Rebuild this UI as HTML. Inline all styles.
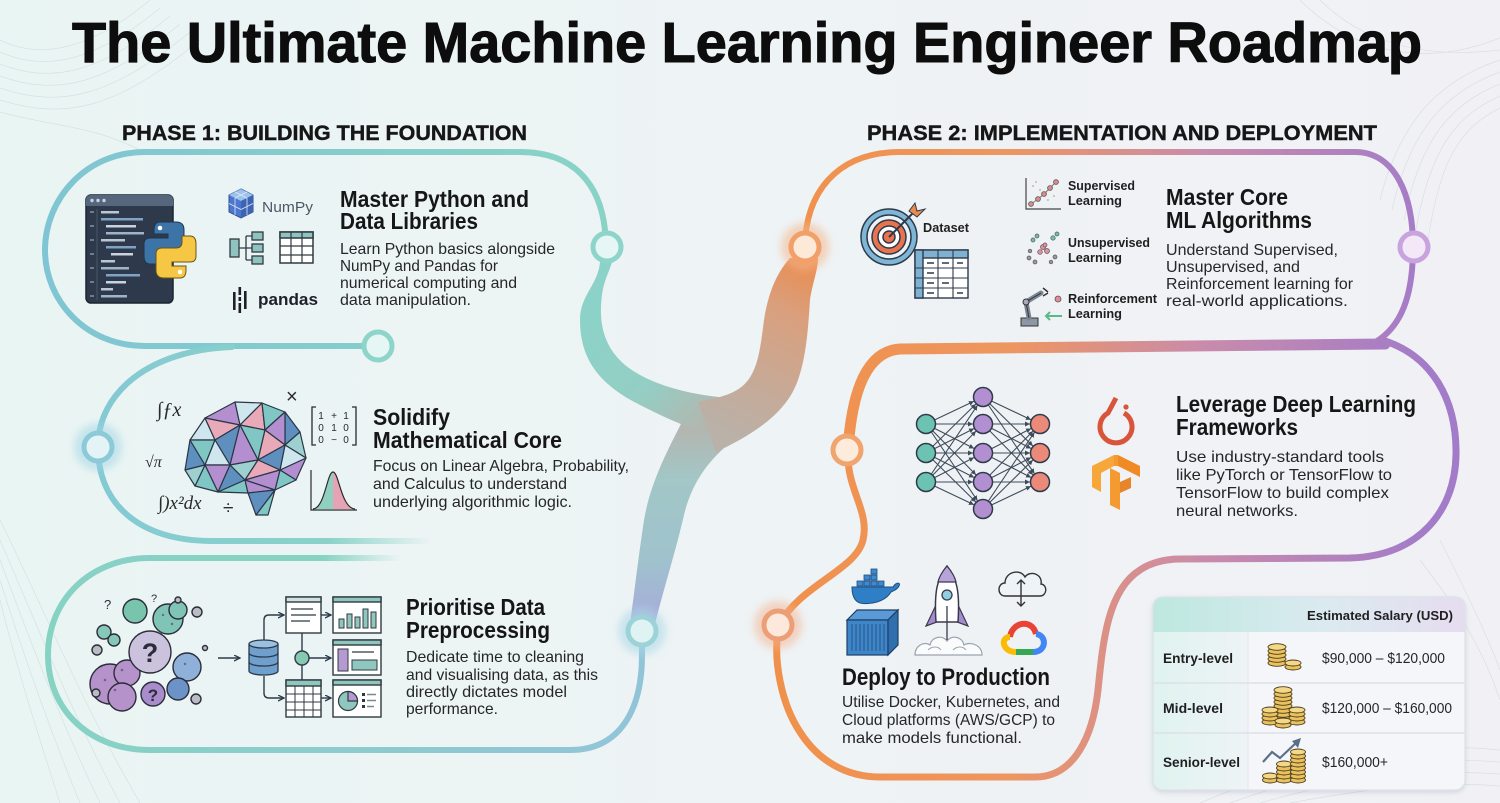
<!DOCTYPE html>
<html><head><meta charset="utf-8"><style>
body{margin:0;padding:0;background:#eef3f4}
svg{display:block}
text{font-family:"Liberation Sans",Arial,sans-serif}
.h{font-weight:700;fill:#161616}
.b{fill:#262626}
.m{font-family:"Liberation Serif",serif;font-style:italic;fill:#2a2a2a}
</style></head><body>
<svg width="1500" height="803" viewBox="0 0 1500 803" xmlns="http://www.w3.org/2000/svg">
<defs>
<linearGradient id="bg" x1="0" y1="0" x2="1" y2="0"><stop offset="0" stop-color="#e9f5f3"/><stop offset=".5" stop-color="#eef3f5"/><stop offset="1" stop-color="#f1f1f5"/></linearGradient>
<linearGradient id="g2" gradientUnits="userSpaceOnUse" x1="780" y1="0" x2="1430" y2="0"><stop offset="0" stop-color="#f0914b"/><stop offset=".35" stop-color="#ee9660"/><stop offset=".65" stop-color="#c98bab"/><stop offset="1" stop-color="#a27bc9"/></linearGradient>
<linearGradient id="gT1" gradientUnits="userSpaceOnUse" x1="40" y1="0" x2="610" y2="0"><stop offset="0" stop-color="#80c5d3"/><stop offset="1" stop-color="#89d3c6"/></linearGradient>
<linearGradient id="gT2" gradientUnits="userSpaceOnUse" x1="90" y1="0" x2="430" y2="0"><stop offset="0" stop-color="#84c9d4"/><stop offset=".7" stop-color="#8ad2c8"/><stop offset="1" stop-color="#8ad2c8" stop-opacity="0"/></linearGradient>
<linearGradient id="gT3" gradientUnits="userSpaceOnUse" x1="40" y1="0" x2="650" y2="0"><stop offset="0" stop-color="#86d3c3"/><stop offset="1" stop-color="#92c4d9"/></linearGradient>
<linearGradient id="gT3t" gradientUnits="userSpaceOnUse" x1="90" y1="0" x2="400" y2="0"><stop offset="0" stop-color="#86d3c3"/><stop offset=".75" stop-color="#86d3c3"/><stop offset="1" stop-color="#86d3c3" stop-opacity="0"/></linearGradient>
<linearGradient id="trT" gradientUnits="userSpaceOnUse" x1="600" y1="300" x2="725" y2="415"><stop offset="0" stop-color="#8cd2c8"/><stop offset=".55" stop-color="#94cec4"/><stop offset="1" stop-color="#b6b4ac"/></linearGradient>
<linearGradient id="trO" gradientUnits="userSpaceOnUse" x1="805" y1="258" x2="720" y2="430"><stop offset="0" stop-color="#eb8c50"/><stop offset=".3" stop-color="#d9a07e"/><stop offset=".7" stop-color="#c6aa98"/><stop offset="1" stop-color="#bab1a8"/></linearGradient>
<linearGradient id="trL" gradientUnits="userSpaceOnUse" x1="0" y1="420" x2="0" y2="620"><stop offset="0" stop-color="#b6b3ad"/><stop offset=".3" stop-color="#a2c7c6"/><stop offset=".7" stop-color="#9fc2cd"/><stop offset="1" stop-color="#a7acd9"/></linearGradient>
<linearGradient id="hdr" x1="0" y1="0" x2="1" y2="0"><stop offset="0" stop-color="#bde8df"/><stop offset=".55" stop-color="#dbeaf0"/><stop offset="1" stop-color="#e6dcf0"/></linearGradient>
<linearGradient id="lcol" x1="0" y1="0" x2="1" y2="0"><stop offset="0" stop-color="#dff3ef"/><stop offset="1" stop-color="#eef3f6"/></linearGradient>
<filter id="bl" x="-50%" y="-50%" width="200%" height="200%"><feGaussianBlur stdDeviation="4"/></filter>
<filter id="sh" x="-10%" y="-10%" width="120%" height="130%"><feDropShadow dx="0" dy="2" stdDeviation="3" flood-color="#8a93a6" flood-opacity=".35"/></filter>
<clipPath id="card"><rect x="1153" y="597" width="312" height="193" rx="10"/></clipPath>
<marker id="ah" markerUnits="userSpaceOnUse" markerWidth="6" markerHeight="6" refX="5" refY="2.5" orient="auto"><path d="M0,0 L5,2.5 L0,5 z" fill="#2d3a4a"/></marker>
<marker id="ah2" markerUnits="userSpaceOnUse" markerWidth="7" markerHeight="7" refX="6" refY="3" orient="auto"><path d="M0,0 L6,3 L0,6" fill="none" stroke="#2d3a4a" stroke-width="1.3"/></marker>
</defs>

<rect width="1500" height="803" fill="url(#bg)"/>

<g fill="none" stroke="#c9d3d8" stroke-width=".7" opacity=".6">
<path d="M0 40 C40 60 90 50 150 0"/><path d="M0 52 C45 72 95 62 160 8"/><path d="M0 64 C50 84 100 74 170 16"/><path d="M0 76 C55 96 105 86 180 24"/><path d="M0 88 C60 108 110 98 190 32"/><path d="M0 100 C65 120 115 110 200 40"/><path d="M0 112 C60 128 90 125 140 150"/>
<path d="M1500 60 C1440 80 1400 120 1380 200"/><path d="M1500 72 C1445 92 1410 130 1392 210"/><path d="M1500 84 C1450 104 1420 140 1404 220"/><path d="M1500 96 C1455 116 1430 150 1416 230"/><path d="M1500 108 C1460 128 1440 160 1428 240"/><path d="M1320 0 C1360 40 1420 60 1500 50"/><path d="M1300 0 C1350 50 1420 70 1500 38"/>
<path d="M0 520 C40 600 80 700 140 803"/><path d="M0 540 C35 620 70 710 120 803"/><path d="M0 560 C30 640 60 720 100 803"/><path d="M0 580 C25 660 50 730 80 803"/><path d="M0 600 C20 680 40 740 60 803"/>
<path d="M1200 803 C1300 760 1400 740 1500 750"/><path d="M1230 803 C1320 770 1410 755 1500 762"/><path d="M1260 803 C1340 780 1420 768 1500 774"/><path d="M1290 803 C1360 790 1430 780 1500 786"/><path d="M1420 560 C1450 600 1480 640 1500 700"/><path d="M1440 540 C1465 590 1485 630 1500 670"/>
</g>

<text x="72" y="62" font-size="57" font-weight="700" fill="#0d0d0d" stroke="#0d0d0d" stroke-width="1.1" textLength="1350" lengthAdjust="spacingAndGlyphs">The Ultimate Machine Learning Engineer Roadmap</text>
<text x="122" y="140" font-size="21" class="h" stroke="#161616" stroke-width=".4" textLength="405" lengthAdjust="spacingAndGlyphs">PHASE 1: BUILDING THE FOUNDATION</text>
<text x="867" y="140" font-size="21" class="h" stroke="#161616" stroke-width=".4" textLength="510" lengthAdjust="spacingAndGlyphs">PHASE 2: IMPLEMENTATION AND DEPLOYMENT</text>

<!-- CENTRAL TRUNK -->
<path d="M682 422 C665 455 650 485 644 520 C638 560 634 595 630 624 L655 624 C662 595 676 550 684 515 C690 490 702 468 724 448 L705 418 Z" fill="url(#trL)"/>
<path d="M600 262 C598 285 580 295 580 320 C580 360 600 385 640 405 C660 415 682 426 705 432 L730 398 C690 395 650 385 625 365 C605 348 598 325 602 295 C604 280 610 270 612 262 Z" fill="url(#trT)"/>
<path d="M790 258 C775 275 768 295 764 320 C760 350 758 375 740 388 C730 395 718 398 698 402 L716 452 C746 438 776 420 791 395 C806 370 808 330 810 300 C812 285 818 270 818 258 Z" fill="url(#trO)"/>

<g fill="none" stroke-linecap="round">
<path d="M603 268 C606 255 607 245 605 230 C600 185 575 152 520 152 L145 152 C85 152 45 200 45 250 C45 300 85 346 145 346 L378 346" stroke="url(#gT1)" stroke-width="6"/>
<path d="M232 347 C150 350 98 392 98 447 C98 505 140 540 210 541 L430 541" stroke="url(#gT2)" stroke-width="6"/>
<path d="M400 558 L150 558" stroke="url(#gT3t)" stroke-width="6"/>
<path d="M150 558 C90 558 48 600 48 655 C48 710 90 750 150 750 L570 750 C620 750 642 710 642 655 L642 632" stroke="url(#gT3)" stroke-width="6"/>
</g>

<g fill="none" stroke="url(#g2)" stroke-linecap="round">
<path d="M805 262 L805 247 C805 195 835 152 900 152 L1355 152 C1395 152 1413 195 1413 247 C1413 295 1402 328 1372 344" stroke-width="6"/>
<path d="M1385 344 L900 349 C868 351 852 388 848 450" stroke-width="11"/>
<path d="M848 450 C846 490 870 510 863 540 C856 570 800 585 779 625 C772 660 782 705 800 732 C818 760 845 777 880 777 L1035 777 C1075 777 1093 735 1098 690 C1103 640 1108 590 1140 570 C1150 563 1165 559 1180 559 L1350 558 C1420 556 1455 510 1456 455 C1457 400 1432 355 1382 340" stroke-width="7"/>
</g>

<g>
<circle cx="98" cy="447" r="24" fill="#9fd3e3" opacity=".5" filter="url(#bl)"/>
<circle cx="642" cy="631" r="24" fill="#a9d8e6" opacity=".55" filter="url(#bl)"/>
<circle cx="805" cy="247" r="24" fill="#f5b68a" opacity=".55" filter="url(#bl)"/>
<circle cx="778" cy="625" r="24" fill="#f5b08a" opacity=".5" filter="url(#bl)"/>
<circle cx="607" cy="247" r="14" fill="#e6f6f4" stroke="#8dd4ca" stroke-width="5"/>
<circle cx="378" cy="346" r="14" fill="#e6f6f4" stroke="#8dd4ca" stroke-width="5"/>
<circle cx="98" cy="447" r="14" fill="#e3f3f6" stroke="#8ccad8" stroke-width="5"/>
<circle cx="642" cy="631" r="14" fill="#dff3f2" stroke="#9dd3d8" stroke-width="5"/>
<circle cx="805" cy="247" r="14" fill="#fde9d8" stroke="#f0a068" stroke-width="5"/>
<circle cx="1414" cy="247" r="14" fill="#f3e8f8" stroke="#c9a3de" stroke-width="5"/>
<circle cx="847" cy="450" r="14" fill="#fdebdc" stroke="#f0a46e" stroke-width="5"/>
<circle cx="778" cy="625" r="14" fill="#fde8dc" stroke="#ec9f77" stroke-width="5"/>
</g>

<!-- CARD 1 -->
<g>
<rect x="86" y="195" width="87" height="108" rx="5" fill="#2e3a4b" stroke="#1b2430" stroke-width="1.5"/>
<path d="M86 206 V200 Q86 195 91 195 H168 Q173 195 173 200 V206 Z" fill="#56677d"/>
<circle cx="92" cy="200.5" r="1.7" fill="#c9d3df"/><circle cx="98" cy="200.5" r="1.7" fill="#c9d3df"/><circle cx="104" cy="200.5" r="1.7" fill="#c9d3df"/>
<line x1="97" y1="209" x2="97" y2="300" stroke="#46566b"/>
<g fill="#6b7c90"><rect x="90" y="211" width="4" height="2"/><rect x="90" y="225" width="4" height="2"/><rect x="90" y="239" width="4" height="2"/><rect x="90" y="253" width="4" height="2"/><rect x="90" y="267" width="4" height="2"/><rect x="90" y="281" width="4" height="2"/><rect x="90" y="295" width="4" height="2"/></g>
<rect x="101" y="211" width="18" height="2.5" fill="#b9c6d4"/><rect x="101" y="218" width="42" height="2.5" fill="#7fa3c6"/><rect x="106" y="225" width="30" height="2.5" fill="#c9d3dd"/><rect x="106" y="232" width="38" height="2.5" fill="#9fb4c8"/><rect x="101" y="239" width="24" height="2.5" fill="#b9c6d4"/><rect x="106" y="246" width="30" height="2.5" fill="#7fa3c6"/><rect x="111" y="253" width="22" height="2.5" fill="#c9d3dd"/><rect x="101" y="260" width="14" height="2.5" fill="#b9c6d4"/><rect x="101" y="267" width="28" height="2.5" fill="#9fb4c8"/><rect x="106" y="274" width="34" height="2.5" fill="#7fa3c6"/><rect x="106" y="281" width="20" height="2.5" fill="#c9d3dd"/><rect x="101" y="288" width="12" height="2.5" fill="#b9c6d4"/><rect x="101" y="295" width="26" height="2.5" fill="#9fb4c8"/>
<path d="M160 222 H176 Q184 222 184 230 V246 Q184 252 178 252 H164 Q158 252 158 258 V264 H150 Q144 264 144 256 V244 Q144 238 150 238 H168 V234 H154 V230 Q154 222 160 222 Z" fill="#3d74a8" stroke="#1f3550"/>
<path d="M160 222 H176 Q184 222 184 230 V246 Q184 252 178 252 H164 Q158 252 158 258 V264 H150 Q144 264 144 256 V244 Q144 238 150 238 H168 V234 H154 V230 Q154 222 160 222 Z" fill="#f6c744" stroke="#6b5512" transform="rotate(180 170 250)"/>
<circle cx="160" cy="228" r="2.3" fill="#fff"/><circle cx="180" cy="272" r="2.3" fill="#fff"/>
<polygon points="241,189 253,195 253,212 241,218 229,212 229,195" fill="#4d77cf" stroke="#2f4f8f"/>
<polygon points="241,189 253,195 241,201 229,195" fill="#9cc3ee"/>
<polygon points="241,201 253,195 253,212 241,218" fill="#3d63b3"/>
<g stroke="#dfe9f7" stroke-width=".8"><line x1="235" y1="192" x2="247" y2="198"/><line x1="247" y1="192" x2="235" y2="198"/><line x1="229" y1="203.5" x2="241" y2="209.5"/><line x1="241" y1="209.5" x2="253" y2="203.5"/><line x1="235" y1="198" x2="235" y2="215"/><line x1="247" y1="198" x2="247" y2="215"/></g>
<text x="262" y="212" font-size="15" fill="#4a5868" textLength="51" lengthAdjust="spacingAndGlyphs">NumPy</text>
<g stroke="#2f3a40" stroke-width="1.3" fill="#8fc3c0">
<rect x="230" y="239" width="9" height="18"/>
<path d="M239 248 H246 M246 236 V260 M246 236 H252 M246 248 H252 M246 260 H252" fill="none"/>
<rect x="252" y="232" width="11" height="8"/><rect x="252" y="244" width="11" height="8"/><rect x="252" y="256" width="11" height="8"/>
</g>
<rect x="280" y="232" width="33" height="31" fill="#fff" stroke="#2f3a40" stroke-width="1.5"/>
<rect x="280" y="232" width="33" height="6" fill="#8fc3c0" stroke="#2f3a40" stroke-width="1.5"/>
<path d="M291 232 V263 M302 232 V263 M280 246 H313 M280 255 H313" stroke="#2f3a40" stroke-width="1.2"/>
<g fill="#1f1f2a"><rect x="233" y="292" width="2.6" height="18"/><rect x="238.5" y="287" width="2.6" height="8"/><rect x="238.5" y="297" width="2.6" height="4"/><rect x="238.5" y="303" width="2.6" height="10"/><rect x="244" y="291" width="2.6" height="18"/></g>
<text x="258" y="305" font-size="17" font-weight="700" fill="#1f1f2a" textLength="60" lengthAdjust="spacingAndGlyphs">pandas</text>
</g>
<text x="340" y="207" font-size="23" class="h" textLength="189" lengthAdjust="spacingAndGlyphs">Master Python and</text>
<text x="340" y="229" font-size="23" class="h" textLength="138" lengthAdjust="spacingAndGlyphs">Data Libraries</text>
<g font-size="16" class="b">
<text x="340" y="254" textLength="215" lengthAdjust="spacingAndGlyphs">Learn Python basics alongside</text>
<text x="340" y="271" textLength="158" lengthAdjust="spacingAndGlyphs">NumPy and Pandas for</text>
<text x="340" y="288" textLength="177" lengthAdjust="spacingAndGlyphs">numerical computing and</text>
<text x="340" y="305" textLength="131" lengthAdjust="spacingAndGlyphs">data manipulation.</text>
</g>

<!-- CARD 2 -->
<g stroke="#2a3646" stroke-width="1.2" stroke-linejoin="round">
<polygon points="185,470 190,440 205,465" fill="#5f8fbf"/>
<polygon points="190,440 205,418 215,440" fill="#cfe6ee"/>
<polygon points="190,440 215,440 205,465" fill="#7fc6c4"/>
<polygon points="205,418 235,402 240,425" fill="#b38fd0"/>
<polygon points="205,418 240,425 215,440" fill="#e8a9b8"/>
<polygon points="235,402 262,403 240,425" fill="#cfe6ee"/>
<polygon points="262,403 265,430 240,425" fill="#e8a9b8"/>
<polygon points="262,403 285,412 265,430" fill="#7fc6c4"/>
<polygon points="285,412 300,432 285,445" fill="#5f8fbf"/>
<polygon points="285,412 285,445 265,430" fill="#b38fd0"/>
<polygon points="300,432 306,458 285,445" fill="#9dd0cf"/>
<polygon points="306,458 296,480 280,470" fill="#b38fd0"/>
<polygon points="306,458 280,470 285,445" fill="#cfe6ee"/>
<polygon points="296,480 275,490 280,470" fill="#7fc6c4"/>
<polygon points="215,440 240,425 230,465" fill="#5f8fbf"/>
<polygon points="240,425 265,430 258,460" fill="#7fc6c4"/>
<polygon points="240,425 258,460 230,465" fill="#b38fd0"/>
<polygon points="265,430 285,445 258,460" fill="#e8a9b8"/>
<polygon points="285,445 280,470 258,460" fill="#5f8fbf"/>
<polygon points="215,440 230,465 205,465" fill="#cfe6ee"/>
<polygon points="205,465 230,465 218,492" fill="#b38fd0"/>
<polygon points="205,465 218,492 195,486" fill="#7fc6c4"/>
<polygon points="185,470 205,465 195,486" fill="#9dd0cf"/>
<polygon points="230,465 258,460 245,480" fill="#9dd0cf"/>
<polygon points="258,460 280,470 245,480" fill="#e8a9b8"/>
<polygon points="280,470 275,490 245,480" fill="#b38fd0"/>
<polygon points="230,465 245,480 218,492" fill="#5f8fbf"/>
<polygon points="245,480 248,493 218,492" fill="#7fc6c4"/>
<polygon points="245,480 275,490 248,493" fill="#b38fd0"/>
<polygon points="248,493 275,490 256,515" fill="#5f8fbf"/>
<polygon points="275,490 268,515 256,515" fill="#7fc6c4"/>
</g>
<text x="157" y="416" font-size="20" class="m">∫ƒx</text>
<text x="286" y="403" font-size="20" fill="#2a2a2a">×</text>
<text x="145" y="467" font-size="16" class="m">√π</text>
<text x="158" y="509" font-size="19" class="m">∫)x²dx</text>
<text x="223" y="514" font-size="19" fill="#2a2a2a">÷</text>
<path d="M316 407 H312 V445 H316 M352 407 H356 V445 H352" fill="none" stroke="#2a2a2a" stroke-width="1.3"/>
<g font-size="10" fill="#2a2a2a" text-anchor="middle"><text x="321" y="419">1</text><text x="334" y="419">+</text><text x="346" y="419">1</text><text x="321" y="431">0</text><text x="334" y="431">1</text><text x="346" y="431">0</text><text x="321" y="443">0</text><text x="334" y="443">−</text><text x="346" y="443">0</text></g>
<path d="M313 509 C325 508 327 472 333 472 L333 509 Z" fill="#8fd0c0"/>
<path d="M333 472 C339 472 341 508 355 509 L333 509 Z" fill="#e5a3b5"/>
<path d="M313 509 C325 508 327 472 333 472 C339 472 341 508 355 509" fill="none" stroke="#2a2a2a" stroke-width="1.2"/>
<path d="M311 470 V510 H357" fill="none" stroke="#2a2a2a" stroke-width="1.2"/>
<text x="373" y="425" font-size="23" class="h" textLength="77" lengthAdjust="spacingAndGlyphs">Solidify</text>
<text x="373" y="448" font-size="23" class="h" textLength="189" lengthAdjust="spacingAndGlyphs">Mathematical Core</text>
<g font-size="16" class="b">
<text x="373" y="471" textLength="256" lengthAdjust="spacingAndGlyphs">Focus on Linear Algebra, Probability,</text>
<text x="373" y="489" textLength="194" lengthAdjust="spacingAndGlyphs">and Calculus to understand</text>
<text x="373" y="507" textLength="199" lengthAdjust="spacingAndGlyphs">underlying algorithmic logic.</text>
</g>

<!-- CARD 3 -->
<g stroke="#2c2c3a" stroke-width="1.4">
<circle cx="135" cy="611" r="12" fill="#79c4ad"/>
<circle cx="168" cy="619" r="15" fill="#7fc4b4"/>
<circle cx="178" cy="610" r="9" fill="#7fc4b4"/>
<circle cx="104" cy="632" r="7" fill="#86c8b8"/><circle cx="114" cy="640" r="6" fill="#86c8b8"/>
<circle cx="110" cy="684" r="20" fill="#b592c9"/><circle cx="127" cy="673" r="13" fill="#b592c9"/><circle cx="122" cy="697" r="14" fill="#b592c9"/>
<circle cx="187" cy="667" r="14" fill="#8fb0d8"/>
<circle cx="178" cy="689" r="11" fill="#6c93c7"/>
<circle cx="150" cy="652" r="21" fill="#cbc3dd"/>
<circle cx="153" cy="694" r="12" fill="#a98ccb"/>
<g fill="#b9bcc2"><circle cx="97" cy="650" r="5"/><circle cx="197" cy="612" r="5"/><circle cx="196" cy="699" r="5"/><circle cx="96" cy="693" r="4"/><circle cx="205" cy="648" r="2.5"/><circle cx="178" cy="600" r="3"/></g>
</g>
<g fill="#5a4b70" opacity=".7"><circle cx="105" cy="680" r="1.3"/><circle cx="115" cy="690" r="1.3"/><circle cx="122" cy="670" r="1.3"/><circle cx="163" cy="615" r="1.2"/><circle cx="172" cy="624" r="1.2"/><circle cx="185" cy="664" r="1.2"/></g>
<text x="150" y="662" font-size="27" font-weight="700" fill="#2c2c3a" text-anchor="middle">?</text>
<text x="153" y="701" font-size="17" font-weight="700" fill="#2c2c3a" text-anchor="middle">?</text>
<text x="104" y="609" font-size="13" fill="#2c2c3a">?</text>
<text x="151" y="602" font-size="11" fill="#2c2c3a">?</text>
<line x1="218" y1="658" x2="240" y2="658" stroke="#2d3a4a" stroke-width="1.5" marker-end="url(#ah2)"/>
<g stroke="#2a3a4a" stroke-width="1.3">
<path d="M249 644 V671 A14.5 4 0 0 0 278 671 V644" fill="#6f9fcd"/>
<ellipse cx="263.5" cy="644" rx="14.5" ry="4" fill="#9cc0e0"/>
<path d="M249 653 A14.5 4 0 0 0 278 653 M249 662 A14.5 4 0 0 0 278 662" fill="none"/>
</g>
<g fill="none" stroke="#2d3a4a" stroke-width="1.4">
<path d="M264 640 V620 Q264 615 269 615 H284" marker-end="url(#ah2)"/>
<path d="M264 676 V693 Q264 698 269 698 H284" marker-end="url(#ah2)"/>
<path d="M302 633 V680"/>
<path d="M309 658 H331" marker-end="url(#ah2)"/>
<path d="M321 615 H331" marker-end="url(#ah2)"/>
<path d="M321 698 H331" marker-end="url(#ah2)"/>
</g>
<circle cx="302" cy="658" r="7" fill="#86c8b0" stroke="#2d3a4a" stroke-width="1.4"/>
<g stroke="#2f3a40" stroke-width="1.4">
<rect x="286" y="597" width="35" height="36" fill="#fff"/><rect x="286" y="597" width="35" height="5" fill="#cfe2e2"/>
<rect x="333" y="597" width="48" height="36" fill="#fff"/><rect x="333" y="597" width="48" height="5" fill="#8fc6bd"/>
<rect x="333" y="640" width="48" height="35" fill="#fff"/><rect x="333" y="640" width="48" height="5" fill="#8fc6bd"/>
<rect x="286" y="680" width="35" height="37" fill="#fff"/><rect x="286" y="680" width="35" height="6" fill="#8fc6bd"/>
<rect x="333" y="680" width="48" height="37" fill="#fff"/><rect x="333" y="680" width="48" height="5" fill="#8fc6bd"/>
</g>
<g stroke="#2f3a40" stroke-width="1.2"><path d="M291 609 H313 M291 615 H316 M291 621 H310"/></g>
<g fill="#8fc6bd" stroke="#2f3a40" stroke-width="1"><rect x="339" y="619" width="5" height="9"/><rect x="347" y="614" width="5" height="14"/><rect x="355" y="617" width="5" height="11"/><rect x="363" y="609" width="5" height="19"/><rect x="371" y="612" width="5" height="16"/></g>
<rect x="338" y="649" width="10" height="22" fill="#b49ad0" stroke="#2f3a40"/><rect x="352" y="660" width="25" height="10" fill="#8fc6bd" stroke="#2f3a40"/><path d="M352 652 H374" stroke="#2f3a40" stroke-width="1.2"/>
<path d="M286 694 H321 M286 702 H321 M286 710 H321 M295 686 V717 M304 686 V717 M313 686 V717" stroke="#2f3a40" stroke-width="1"/>
<circle cx="348" cy="701" r="9.5" fill="#8fc6bd" stroke="#2f3a40" stroke-width="1.2"/>
<path d="M348 701 V691.5 A9.5 9.5 0 0 1 357.5 701 Z" fill="#b49ad0" stroke="#2f3a40" stroke-width="1.2"/>
<g fill="#2f3a40"><rect x="362" y="693" width="3" height="3"/><rect x="362" y="699" width="3" height="3"/><rect x="362" y="705" width="3" height="3"/></g>
<g stroke="#7a8a90" stroke-width="1.5"><path d="M367 694.5 H376 M367 700.5 H376 M367 706.5 H374"/></g>
<text x="406" y="615" font-size="23" class="h" textLength="139" lengthAdjust="spacingAndGlyphs">Prioritise Data</text>
<text x="406" y="638" font-size="23" class="h" textLength="144" lengthAdjust="spacingAndGlyphs">Preprocessing</text>
<g font-size="16" class="b">
<text x="406" y="662" textLength="178" lengthAdjust="spacingAndGlyphs">Dedicate time to cleaning</text>
<text x="406" y="680" textLength="192" lengthAdjust="spacingAndGlyphs">and visualising data, as this</text>
<text x="406" y="697" textLength="161" lengthAdjust="spacingAndGlyphs">directly dictates model</text>
<text x="406" y="714" textLength="92" lengthAdjust="spacingAndGlyphs">performance.</text>
</g>

<!-- CARD A -->
<g stroke="#2d3a4a" stroke-width="1.5">
<circle cx="889" cy="237" r="28" fill="#7fb6d6"/>
<circle cx="889" cy="237" r="22" fill="#eaf3f8"/>
<circle cx="889" cy="237" r="17" fill="#e9734f"/>
<circle cx="889" cy="237" r="11" fill="#fff"/>
<circle cx="889" cy="237" r="6" fill="#e9734f"/>
<line x1="889" y1="237" x2="913" y2="213" stroke-width="2"/>
<polygon points="909,211 915,203 917,211 925,209 917,217" fill="#e98a4f" stroke-width="1"/>
</g>
<text x="923" y="232" font-size="13" font-weight="700" fill="#1f1f1f" textLength="46" lengthAdjust="spacingAndGlyphs">Dataset</text>
<g stroke="#2d3a4a" stroke-width="1.4">
<rect x="915" y="250" width="53" height="48" fill="#fff"/>
<rect x="915" y="250" width="53" height="8" fill="#7fb2d2"/>
<rect x="915" y="250" width="8" height="48" fill="#7fb2d2"/>
<path d="M938 250 V298 M953 250 V298 M915 268 H968 M915 278 H968 M915 288 H968" fill="none" stroke-width="1.1"/>
</g>
<g stroke="#2d3a4a" stroke-width="1.4"><path d="M927 263 H934 M942 263 H949 M957 263 H963 M927 273 H934 M927 283 H934 M942 283 H949 M957 293 H963 M927 293 H934" /></g>
<path d="M1026 178 V209 H1061" fill="none" stroke="#444" stroke-width="1.2"/>
<path d="M1031 204 L1038 199 L1044 194 L1050 188 L1056 182" fill="none" stroke="#777" stroke-width="1"/>
<g fill="#d98a8a" stroke="#555" stroke-width=".8"><circle cx="1031" cy="204" r="2.4"/><circle cx="1038" cy="199" r="2.4"/><circle cx="1044" cy="194" r="2.4"/><circle cx="1050" cy="188" r="2.4"/><circle cx="1056" cy="182" r="2.4"/></g>
<g fill="#bbb"><circle cx="1033" cy="186" r="1"/><circle cx="1040" cy="190" r="1"/><circle cx="1048" cy="200" r="1"/><circle cx="1054" cy="196" r="1"/><circle cx="1036" cy="182" r="1"/></g>
<g stroke="#555" stroke-width=".7"><g fill="#e58fa0"><circle cx="1043" cy="247" r="2.5"/><circle cx="1047" cy="251" r="2.5"/><circle cx="1040" cy="252" r="2.3"/><circle cx="1045" cy="245" r="2"/></g><g fill="#6fc0b0"><circle cx="1033" cy="240" r="2"/><circle cx="1037" cy="236" r="2"/><circle cx="1053" cy="238" r="2.2"/><circle cx="1057" cy="234" r="2"/></g><g fill="#9a9a9a"><circle cx="1029" cy="258" r="2"/><circle cx="1035" cy="262" r="2"/><circle cx="1030" cy="251" r="1.8"/><circle cx="1055" cy="257" r="2"/><circle cx="1051" cy="262" r="1.8"/></g></g>
<rect x="1021" y="318" width="17" height="8" fill="#8e98a4" stroke="#333" stroke-width="1"/>
<path d="M1029 318 L1026 302 L1041 293" fill="none" stroke="#7b8794" stroke-width="5" stroke-linecap="round"/>
<path d="M1029 318 L1026 302 L1041 293" fill="none" stroke="#333" stroke-width="1"/>
<path d="M1043 288 L1048 292 M1043 296 L1048 293" stroke="#333" stroke-width="1.5"/>
<circle cx="1026" cy="302" r="3" fill="#aab" stroke="#333"/>
<circle cx="1058" cy="299" r="3" fill="#e48a9a" stroke="#555" stroke-width=".8"/>
<path d="M1062 316 H1046 M1050 312 L1046 316 L1050 320" fill="none" stroke="#5bb88a" stroke-width="2"/>
<g font-size="13" font-weight="700" fill="#1f1f1f">
<text x="1068" y="190" textLength="67" lengthAdjust="spacingAndGlyphs">Supervised</text>
<text x="1068" y="205" textLength="54" lengthAdjust="spacingAndGlyphs">Learning</text>
<text x="1068" y="247" textLength="82" lengthAdjust="spacingAndGlyphs">Unsupervised</text>
<text x="1068" y="262" textLength="54" lengthAdjust="spacingAndGlyphs">Learning</text>
<text x="1068" y="303" textLength="89" lengthAdjust="spacingAndGlyphs">Reinforcement</text>
<text x="1068" y="318" textLength="54" lengthAdjust="spacingAndGlyphs">Learning</text>
</g>
<text x="1166" y="205" font-size="23" class="h" textLength="122" lengthAdjust="spacingAndGlyphs">Master Core</text>
<text x="1166" y="228" font-size="23" class="h" textLength="146" lengthAdjust="spacingAndGlyphs">ML Algorithms</text>
<g font-size="16" class="b">
<text x="1166" y="255" textLength="172" lengthAdjust="spacingAndGlyphs">Understand Supervised,</text>
<text x="1166" y="272" textLength="134" lengthAdjust="spacingAndGlyphs">Unsupervised, and</text>
<text x="1166" y="289" textLength="187" lengthAdjust="spacingAndGlyphs">Reinforcement learning for</text>
<text x="1166" y="306" textLength="182" lengthAdjust="spacingAndGlyphs">real-world applications.</text>
</g>

<!-- CARD B -->
<g stroke="#2d3a4a" stroke-width="1.1" marker-end="url(#ah)" opacity=".9">
<line x1="926" y1="424" x2="973.97" y2="401.28"/><line x1="926" y1="424" x2="973" y2="424"/><line x1="926" y1="424" x2="974.09" y2="448.47"/><line x1="926" y1="424" x2="975.99" y2="474.87"/><line x1="926" y1="424" x2="977.43" y2="500.69"/>
<line x1="926" y1="453" x2="975.87" y2="404.01"/><line x1="926" y1="453" x2="974.09" y2="428.53"/><line x1="926" y1="453" x2="973" y2="453"/><line x1="926" y1="453" x2="974.09" y2="477.47"/><line x1="926" y1="453" x2="975.87" y2="501.99"/>
<line x1="926" y1="482" x2="977.43" y2="405.31"/><line x1="926" y1="482" x2="975.99" y2="431.13"/><line x1="926" y1="482" x2="974.09" y2="457.53"/><line x1="926" y1="482" x2="973" y2="482"/><line x1="926" y1="482" x2="973.97" y2="504.72"/>
<line x1="983" y1="397" x2="1030.97" y2="419.72"/><line x1="983" y1="397" x2="1032.87" y2="445.99"/><line x1="983" y1="397" x2="1034.43" y2="473.69"/>
<line x1="983" y1="424" x2="1030" y2="424"/><line x1="983" y1="424" x2="1031.09" y2="448.47"/><line x1="983" y1="424" x2="1032.99" y2="474.87"/>
<line x1="983" y1="453" x2="1031.09" y2="428.53"/><line x1="983" y1="453" x2="1030" y2="453"/><line x1="983" y1="453" x2="1031.09" y2="477.47"/>
<line x1="983" y1="482" x2="1032.99" y2="431.13"/><line x1="983" y1="482" x2="1031.09" y2="457.53"/><line x1="983" y1="482" x2="1030" y2="482"/>
<line x1="983" y1="509" x2="1034.43" y2="432.31"/><line x1="983" y1="509" x2="1032.87" y2="460.01"/><line x1="983" y1="509" x2="1030.97" y2="486.28"/>
</g>
<g stroke="#2d3a4a" stroke-width="1.5">
<g fill="#6cc3b2"><circle cx="926" cy="424" r="9.5"/><circle cx="926" cy="453" r="9.5"/><circle cx="926" cy="482" r="9.5"/></g>
<g fill="#b18fd0"><circle cx="983" cy="397" r="9.5"/><circle cx="983" cy="424" r="9.5"/><circle cx="983" cy="453" r="9.5"/><circle cx="983" cy="482" r="9.5"/><circle cx="983" cy="509" r="9.5"/></g>
<g fill="#ec8a7a"><circle cx="1040" cy="424" r="9.5"/><circle cx="1040" cy="453" r="9.5"/><circle cx="1040" cy="482" r="9.5"/></g>
</g>
<path d="M1124 413 A16 16 0 1 1 1108 413 L1116 398" fill="none" stroke="#d9553a" stroke-width="5" stroke-linejoin="round"/>
<circle cx="1126" cy="407" r="2.6" fill="#d9553a"/>
<polygon points="1092,466 1114,455 1114,466 1101,473 1101,492 1092,487" fill="#f7a739"/>
<polygon points="1118,455 1140,466 1140,477 1118,466" fill="#f08a25"/>
<polygon points="1110,468 1120,473 1120,510 1110,505" fill="#f59a30"/>
<polygon points="1114,455 1118,455 1118,466 1114,466" fill="#f59a30"/>
<polygon points="1120,482 1131,477 1131,488 1120,493" fill="#e8852a"/>
<text x="1176" y="412" font-size="23" class="h" textLength="240" lengthAdjust="spacingAndGlyphs">Leverage Deep Learning</text>
<text x="1176" y="435" font-size="23" class="h" textLength="122" lengthAdjust="spacingAndGlyphs">Frameworks</text>
<g font-size="16" class="b">
<text x="1176" y="462" textLength="208" lengthAdjust="spacingAndGlyphs">Use industry-standard tools</text>
<text x="1176" y="480" textLength="216" lengthAdjust="spacingAndGlyphs">like PyTorch or TensorFlow to</text>
<text x="1176" y="498" textLength="213" lengthAdjust="spacingAndGlyphs">TensorFlow to build complex</text>
<text x="1176" y="516" textLength="122" lengthAdjust="spacingAndGlyphs">neural networks.</text>
</g>

<!-- CARD C -->
<path d="M852 587 L893 587 C896 582 901 582 899 586 C897 590 893 591 891 592 C885 602 870 605 860 603 C854 601 852 594 852 587 Z" fill="#2f7fc6" stroke="#1e4f80"/>
<g fill="#3d8ad0" stroke="#1e4f80" stroke-width=".8"><rect x="857" y="581" width="6" height="5"/><rect x="864" y="581" width="6" height="5"/><rect x="871" y="581" width="6" height="5"/><rect x="878" y="581" width="6" height="5"/><rect x="864" y="575" width="6" height="5"/><rect x="871" y="575" width="6" height="5"/><rect x="871" y="569" width="6" height="5"/></g>
<g stroke="#1e3f66" stroke-width="1.2">
<polygon points="847,620 857,610 898,610 888,620" fill="#5a9ad6"/>
<rect x="847" y="620" width="41" height="35" fill="#3f86c8"/>
<polygon points="888,620 898,610 898,645 888,655" fill="#2f6fae"/>
</g>
<path d="M852 624 V651 M856 624 V651 M860 624 V651 M864 624 V651 M868 624 V651 M872 624 V651 M876 624 V651 M880 624 V651 M884 624 V651" stroke="#24568c" stroke-width="1"/>
<path d="M915 655 C915 645 925 641 930 645 C932 636 943 635 947 641 C951 635 962 636 964 645 C970 641 982 645 982 655 Z" fill="#fafbfc" stroke="#9aa3b0" stroke-width="1.2"/>
<path d="M936 605 L926 626 L937 622 Z M958 605 L968 626 L957 622 Z" fill="#a48bcf" stroke="#3a3a4a" stroke-width="1.2"/>
<path d="M947 566 C957 578 960 592 958 622 L936 622 C934 592 937 578 947 566 Z" fill="#fff" stroke="#3a3a4a" stroke-width="1.5"/>
<path d="M947 566 C952 572 955 577 956 582 L938 582 C939 577 942 572 947 566 Z" fill="#b9a3dc" stroke="#3a3a4a" stroke-width="1.2"/>
<circle cx="947" cy="595" r="5" fill="#8fcfe0" stroke="#3a3a4a" stroke-width="1.3"/>
<path d="M947 606 V640" stroke="#3a3a4a" stroke-width="1.3"/>
<path d="M928 650 C932 646 938 646 941 650 M953 650 C957 646 963 646 966 650" fill="none" stroke="#9aa3b0"/>
<path d="M1005 596 C997 596 997 583 1005 583 C1005 572 1020 568 1025 577 C1030 570 1043 574 1041 584 C1048 585 1047 596 1040 596 Z" fill="#eef3f7" stroke="#333" stroke-width="1.4"/>
<path d="M1021 580 V606 M1017 584 L1021 580 L1025 584 M1017 602 L1021 606 L1025 602" fill="none" stroke="#333" stroke-width="1.4"/>
<g fill="none" stroke-width="6" stroke-linecap="butt">
<path d="M1010 637 C1012 622 1032 618 1036 634" stroke="#ea4335"/>
<path d="M1036 634 C1047 635 1047 652 1033 652" stroke="#4285f4"/>
<path d="M1033 652 L1016 652" stroke="#34a853"/>
<path d="M1016 652 C1002 652 1000 637 1010 637" stroke="#fbbc05"/>
</g>
<text x="842" y="685" font-size="24" class="h" textLength="208" lengthAdjust="spacingAndGlyphs">Deploy to Production</text>
<g font-size="16" class="b">
<text x="842" y="707" textLength="218" lengthAdjust="spacingAndGlyphs">Utilise Docker, Kubernetes, and</text>
<text x="842" y="725" textLength="213" lengthAdjust="spacingAndGlyphs">Cloud platforms (AWS/GCP) to</text>
<text x="842" y="743" textLength="180" lengthAdjust="spacingAndGlyphs">make models functional.</text>
</g>

<!-- SALARY TABLE -->
<rect x="1153" y="597" width="312" height="193" rx="10" fill="#f5f6f9" filter="url(#sh)"/>
<g clip-path="url(#card)">
<rect x="1153" y="632" width="95" height="158" fill="url(#lcol)"/>
<rect x="1153" y="597" width="312" height="35" fill="url(#hdr)"/>
<path d="M1153 683 H1465 M1153 733 H1465" stroke="#d9dde5" stroke-width="1.2"/>
<path d="M1248 632 V790" stroke="#e3e7ed" stroke-width="1"/>
</g>
<rect x="1153" y="597" width="312" height="193" rx="10" fill="none" stroke="#dde1e8" stroke-width="1.2"/>
<text x="1307" y="620" font-size="13" font-weight="700" fill="#1f1f1f" textLength="146" lengthAdjust="spacingAndGlyphs">Estimated Salary (USD)</text>
<g font-size="14" font-weight="700" fill="#1f1f1f">
<text x="1163" y="663" textLength="70" lengthAdjust="spacingAndGlyphs">Entry-level</text>
<text x="1163" y="713" textLength="60" lengthAdjust="spacingAndGlyphs">Mid-level</text>
<text x="1163" y="767" textLength="77" lengthAdjust="spacingAndGlyphs">Senior-level</text>
</g>
<g font-size="14.5" fill="#262626">
<text x="1322" y="663" textLength="123" lengthAdjust="spacingAndGlyphs">$90,000 – $120,000</text>
<text x="1322" y="713" textLength="130" lengthAdjust="spacingAndGlyphs">$120,000 – $160,000</text>
<text x="1322" y="767" textLength="66" lengthAdjust="spacingAndGlyphs">$160,000+</text>
</g>
<g fill="#e9c25f" stroke="#4a3a1a" stroke-width=".9">
<ellipse cx="1277" cy="663" rx="9" ry="3.3"/><ellipse cx="1277" cy="659" rx="9" ry="3.3"/><ellipse cx="1277" cy="655" rx="9" ry="3.3"/><ellipse cx="1277" cy="651" rx="9" ry="3.3"/><ellipse cx="1277" cy="647" rx="9" ry="3.3" fill="#f3d88a"/>
<ellipse cx="1293" cy="667" rx="8" ry="3"/><ellipse cx="1293" cy="663" rx="8" ry="3" fill="#f3d88a"/>
<ellipse cx="1283" cy="718" rx="9" ry="3.3"/><ellipse cx="1283" cy="714" rx="9" ry="3.3"/><ellipse cx="1283" cy="710" rx="9" ry="3.3"/><ellipse cx="1283" cy="706" rx="9" ry="3.3"/><ellipse cx="1283" cy="702" rx="9" ry="3.3"/><ellipse cx="1283" cy="698" rx="9" ry="3.3"/><ellipse cx="1283" cy="694" rx="9" ry="3.3"/><ellipse cx="1283" cy="690" rx="9" ry="3.3" fill="#f3d88a"/>
<ellipse cx="1270" cy="722" rx="8" ry="3"/><ellipse cx="1270" cy="718" rx="8" ry="3"/><ellipse cx="1270" cy="714" rx="8" ry="3"/><ellipse cx="1270" cy="710" rx="8" ry="3" fill="#f3d88a"/>
<ellipse cx="1297" cy="722" rx="8" ry="3"/><ellipse cx="1297" cy="718" rx="8" ry="3"/><ellipse cx="1297" cy="714" rx="8" ry="3"/><ellipse cx="1297" cy="710" rx="8" ry="3" fill="#f3d88a"/>
<ellipse cx="1283" cy="725" rx="8" ry="3"/><ellipse cx="1283" cy="721" rx="8" ry="3" fill="#f3d88a"/>
<ellipse cx="1270" cy="780" rx="7.5" ry="3"/><ellipse cx="1270" cy="776" rx="7.5" ry="3" fill="#f3d88a"/>
<ellipse cx="1284" cy="780" rx="7.5" ry="3"/><ellipse cx="1284" cy="776" rx="7.5" ry="3"/><ellipse cx="1284" cy="772" rx="7.5" ry="3"/><ellipse cx="1284" cy="768" rx="7.5" ry="3"/><ellipse cx="1284" cy="764" rx="7.5" ry="3" fill="#f3d88a"/>
<ellipse cx="1298" cy="780" rx="7.5" ry="3"/><ellipse cx="1298" cy="776" rx="7.5" ry="3"/><ellipse cx="1298" cy="772" rx="7.5" ry="3"/><ellipse cx="1298" cy="768" rx="7.5" ry="3"/><ellipse cx="1298" cy="764" rx="7.5" ry="3"/><ellipse cx="1298" cy="760" rx="7.5" ry="3"/><ellipse cx="1298" cy="756" rx="7.5" ry="3"/><ellipse cx="1298" cy="752" rx="7.5" ry="3" fill="#f3d88a"/>
</g>
<path d="M1263 762 L1272 752 L1280 758 L1297 742" fill="none" stroke="#5a6f8a" stroke-width="2.2"/>
<polygon points="1301,738 1298,748 1292,741" fill="#5a6f8a"/>
</svg>
</body></html>
